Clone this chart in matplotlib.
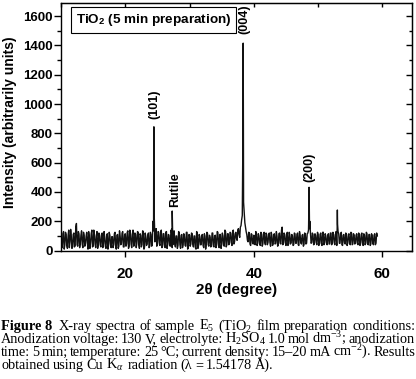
import numpy as np
import matplotlib
matplotlib.use("Agg")
import matplotlib.pyplot as plt
from matplotlib.ticker import MultipleLocator

plt.rcParams['font.family'] = ['Liberation Sans', 'DejaVu Sans']
plt.rcParams['mathtext.fontset'] = 'custom'
plt.rcParams['mathtext.rm'] = 'Liberation Serif'
plt.rcParams['mathtext.it'] = 'Liberation Serif:italic'
plt.rcParams['mathtext.bf'] = 'Liberation Sans:bold'

# background scan: even points 10.0 .. 59.2, odd points 10.1 .. 59.1
background_even = [
    95, 20, 130, 40, 110, 15, 140, 60, 100, 25,
    120, 35, 185, 30, 115, 50, 135, 20, 105, 45,
    125, 10, 95, 55, 140, 30, 110, 20, 130, 40,
    100, 25, 120, 45, 90, 15, 115, 35, 105, 20,
    95, 40, 125, 10, 110, 30, 100, 50, 130, 25,
    115, 45, 135, 30, 120, 20, 140, 35, 110, 50,
    125, 15, 105, 40, 130, 25, 95, 45, 120, 30,
    110, 40, 135, 60, 150, 55, 125, 35, 140, 30,
    115, 20, 130, 45, 105, 30, 125, 40, 135, 25,
    100, 35, 120, 15, 110, 40, 95, 30, 125, 20,
    105, 45, 115, 25, 100, 10, 120, 35, 95, 40,
    110, 20, 100, 45, 115, 30, 90, 40, 120, 25,
    105, 35, 125, 20, 110, 45, 100, 30, 130, 40,
    115, 50, 120, 35, 140, 60, 125, 70, 150, 90,
    170, 240, 330, 190, 130, 70, 125, 45, 115, 50,
    105, 40, 120, 50, 100, 35, 115, 45, 125, 40,
    110, 55, 120, 30, 105, 45, 115, 50, 100, 40,
    120, 45, 160, 50, 110, 35, 125, 45, 105, 55,
    100, 40, 115, 50, 120, 35, 105, 45, 110, 40,
    115, 50, 120, 380, 130, 55, 110, 45, 105, 40,
    110, 45, 120, 35, 125, 50, 100, 40, 115, 45,
    120, 50, 110, 40, 130, 240, 115, 50, 125, 35,
    110, 45, 100, 50, 115, 40, 120, 45, 105, 50,
    115, 40, 110, 45, 120, 35, 105, 50, 115, 40,
    110, 45, 105, 40, 115, 50, 100,
]
background_odd = [
    60, 115, 10, 125, 35, 100, 20, 145, 15, 110,
    25, 160, 40, 130, 20, 105, 45, 125, 30, 95,
    55, 130, 15, 115, 25, 140, 45, 100, 15, 120,
    40, 110, 20, 130, 30, 100, 10, 125, 45, 95,
    20, 115, 35, 105, 15, 135, 40, 120, 25, 110,
    30, 125, 15, 140, 45, 110, 30, 120, 20, 130,
    40, 115, 25, 135, 10, 120, 35, 105, 20, 125,
    30, 200, 240, 110, 30, 130, 45, 120, 20, 115,
    40, 125, 15, 110, 35, 140, 20, 120, 45, 100,
    15, 130, 40, 105, 20, 115, 35, 125, 10, 110,
    30, 120, 45, 100, 20, 130, 15, 110, 40, 105,
    35, 115, 10, 125, 40, 105, 25, 120, 30, 100,
    20, 130, 45, 110, 15, 120, 35, 140, 25, 115,
    40, 125, 55, 130, 45, 115, 80, 140, 110, 160,
    210, 800, 260, 160, 110, 60, 120, 35, 110, 45,
    60, 130, 35, 115, 50, 125, 30, 110, 55, 120,
    40, 105, 55, 125, 35, 110, 45, 130, 30, 115,
    50, 140, 40, 120, 55, 105, 35, 125, 45, 110,
    35, 120, 50, 110, 40, 130, 55, 105, 30, 120,
    45, 115, 140, 200, 50, 120, 40, 115, 55, 125,
    35, 110, 50, 125, 40, 115, 55, 105, 45, 120,
    40, 125, 55, 110, 35, 130, 50, 115, 40, 105,
    55, 120, 35, 110, 50, 125, 40, 115, 45, 105,
    50, 120, 35, 110, 55, 115, 40, 125, 45, 110,
    35, 115, 50, 105, 40, 120,
]

# sharp reflections
peak_theta = [24.35, 24.42, 24.45, 24.48, 24.55,
              27.25, 27.30, 27.35,
              38.26, 38.31, 38.34, 38.37, 38.39,
              48.52, 48.56, 48.59, 48.62, 48.66,
              52.96, 52.99, 53.02]
peak_int = [180, 600, 845, 560, 170,
            150, 270, 140,
            600, 1100, 1416, 1000, 550,
            180, 330, 432, 300, 150,
            150, 277, 180]

labels = ["(101)", "Rutile", "(004)", "(200)"]
label_x = [24.6, 27.7, 38.45, 48.6]
label_y = [900, 297, 1480, 467]

caption_head = "Figure 8"
caption_lines = [
    "X-ray spectra of sample E$_5$ (TiO$_2$ film preparation conditions:",
    "Anodization voltage: 130 V, electrolyte: H$_2$SO$_4$ 1.0 mol dm$^{-3}$; anodization",
    "time: 5 min; temperature: 25 °C; current density: 15–20 mA cm$^{-2}$). Results",
    "obtained using Cu K$_\\alpha$ radiation (λ = 1.54178 Å).",
]

theta = np.concatenate([10.0 + 0.2 * np.arange(len(background_even)),
                        10.1 + 0.2 * np.arange(len(background_odd)),
                        peak_theta])
inten = np.concatenate([background_even, background_odd, peak_int])
order = np.argsort(theta, kind="stable")
theta, inten = theta[order], inten[order]

W, H = 416, 379
fig = plt.figure(figsize=(W / 100, H / 100), dpi=100)
ax = fig.add_axes([61 / W, 1 - 250.6 / H, (412 - 61) / W, (250.6 - 3) / H])

ax.plot(theta, inten, color="#111111", lw=1.0)
ax.set_xlim(10, 64.6)
ax.set_ylim(0, 1690)

ax.xaxis.set_major_locator(MultipleLocator(20))
ax.yaxis.set_major_locator(MultipleLocator(200))
ax.yaxis.set_minor_locator(MultipleLocator(100))
ax.tick_params(axis="y", which="major", direction="out", length=5, width=1,
               pad=1, labelsize=9.5)
ax.tick_params(axis="y", which="minor", direction="out", length=3, width=1)
ax.tick_params(axis="x", which="major", direction="out", length=4.5, width=1,
               pad=7, labelsize=11)
for lab in ax.get_xticklabels() + ax.get_yticklabels():
    lab.set_fontweight("bold")
for sp in ax.spines.values():
    sp.set_linewidth(1)

# mirrored ticks on top and right, pointing in
top = ax.secondary_xaxis("top")
top.xaxis.set_major_locator(MultipleLocator(20))
top.xaxis.set_minor_locator(MultipleLocator(10))
top.tick_params(which="both", direction="in", length=3, width=1, labeltop=False)
right = ax.secondary_yaxis("right")
right.yaxis.set_major_locator(MultipleLocator(200))
right.yaxis.set_minor_locator(MultipleLocator(100))
right.tick_params(which="major", direction="in", length=4, width=1, labelright=False)
right.tick_params(which="minor", direction="in", length=2.5, width=1)

ax.set_ylabel("Intensity (arbitrarily units)", fontsize=10, fontweight="bold")
ax.yaxis.set_label_coords((17 - 61) / 351, 0.52)
ax.set_xlabel("2θ (degree)", fontsize=11, fontweight="bold")
ax.xaxis.set_label_coords(0.5, -(283 - 250.6) / 247.6)
ax.xaxis.label.set_va("top")

for t, x, y in zip(labels, label_x, label_y):
    ax.text(x, y, t, rotation=90, ha="center", va="bottom",
            fontsize=9, fontweight="bold", clip_on=False)

ax.text(12.3, 1573, "TiO$_\\mathbf{2}$ (5 min preparation)", fontsize=9.7,
        fontweight="bold", va="center", ha="left",
        bbox=dict(boxstyle="square,pad=0.35", fc="white", ec="black", lw=0.8))

# caption, justified line by line
renderer = fig.canvas.get_renderer()
cap_size = 10.3
left, right_edge = 1.0, 415.0
baselines = [330, 343, 356, 369]


def width_px(t):
    return t.get_window_extent(renderer).width


head = fig.text(left / W, 1 - baselines[0] / H, caption_head, fontsize=cap_size,
                fontweight="bold", family="Liberation Serif", va="baseline")
for i, line in enumerate(caption_lines):
    x0 = left
    if i == 0:
        x0 = left + width_px(head) + 6
    words = line.split(" ")
    texts = [fig.text(0, 1 - baselines[i] / H, w, fontsize=cap_size,
                      family="Liberation Serif", va="baseline") for w in words]
    widths = [width_px(t) for t in texts]
    if i < len(caption_lines) - 1:
        gap = (right_edge - x0 - sum(widths)) / (len(words) - 1)
    else:
        gap = 3.0
    x = x0
    for t, w in zip(texts, widths):
        t.set_x(x / W)
        x += w + gap

fig.savefig("out.png", dpi=100)
